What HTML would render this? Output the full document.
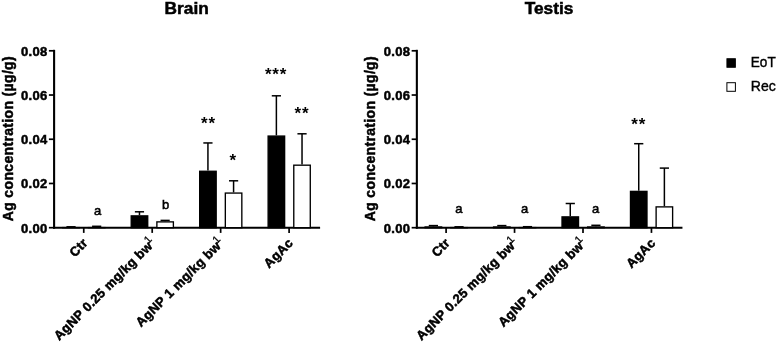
<!DOCTYPE html>
<html><head><meta charset="utf-8"><title>Ag concentration</title>
<style>
html,body{margin:0;padding:0;background:#fff;}
svg{display:block}
text{font-family:"Liberation Sans",sans-serif;fill:#000}
.t{font-size:17.3px;font-weight:bold;stroke:#000;stroke-width:0.5px}
.b{font-size:13px;font-weight:bold;stroke:#000;stroke-width:0.5px;letter-spacing:0.3px}
.yl{font-size:14px;letter-spacing:0.34px}
.xl{word-spacing:0px}
.n{font-size:13.7px;stroke:#000;stroke-width:0.55px}
.lg{font-size:14.7px;stroke:#000;stroke-width:0.4px}
.s{font-size:17px;font-weight:bold;letter-spacing:0.8px}
.sup{font-size:10.8px;font-weight:normal;stroke:#000;stroke-width:0.3px}
.ax{stroke:#000;stroke-width:2.1}
.tk{stroke:#000;stroke-width:1.7}
.er{stroke:#000;stroke-width:1.5}
</style></head><body>
<svg width="778" height="343" viewBox="0 0 778 343">
<rect width="778" height="343" fill="#fff"/>
<text x="186.7" y="13.75" class="t" text-anchor="middle">Brain</text>
<text transform="translate(12.6,138.6) rotate(-90)" class="b yl" text-anchor="middle">Ag concentration (µg/g)</text>
<line x1="54.1" y1="49.8" x2="54.1" y2="228.7" class="ax"/>
<line x1="53.1" y1="227.7" x2="320.1" y2="227.7" class="ax"/>
<line x1="48.9" y1="227.7" x2="54.1" y2="227.7" class="tk"/>
<text x="47.5" y="232.55" class="b" text-anchor="end">0.00</text>
<line x1="48.9" y1="183.47" x2="54.1" y2="183.47" class="tk"/>
<text x="47.5" y="188.32" class="b" text-anchor="end">0.02</text>
<line x1="48.9" y1="139.25" x2="54.1" y2="139.25" class="tk"/>
<text x="47.5" y="144.1" class="b" text-anchor="end">0.04</text>
<line x1="48.9" y1="95.02" x2="54.1" y2="95.02" class="tk"/>
<text x="47.5" y="99.87" class="b" text-anchor="end">0.06</text>
<line x1="48.9" y1="50.8" x2="54.1" y2="50.8" class="tk"/>
<text x="47.5" y="55.65" class="b" text-anchor="end">0.08</text>
<line x1="83.75" y1="227.7" x2="83.75" y2="232.9" class="tk"/>
<g transform="translate(90.05,241.6) rotate(-45)"><text x="-2.6" y="0.5" class="b xl" text-anchor="end">Ctr</text></g>
<line x1="71.03" y1="227.1" x2="71.03" y2="226.8" class="er"/>
<line x1="66.43" y1="226.8" x2="75.62" y2="226.8" class="er"/>
<rect x="62.77" y="227.6" width="16.5" height="0.1" fill="#000" stroke="#000" stroke-width="1.35"/>
<line x1="96.67" y1="227" x2="96.67" y2="226.3" class="er"/>
<line x1="92.08" y1="226.3" x2="101.27" y2="226.3" class="er"/>
<rect x="88.42" y="227.6" width="16.5" height="0.1" fill="#fff" stroke="#000" stroke-width="1.35"/>
<line x1="152.2" y1="227.7" x2="152.2" y2="232.9" class="tk"/>
<g transform="translate(158.5,241.6) rotate(-45)"><text x="-7.4" y="0" class="b xl" text-anchor="end">AgNP 0.25 mg/kg bw</text><text class="sup" x="-9.1" y="-5.3">1</text></g>
<line x1="139.47" y1="215.2" x2="139.47" y2="211.8" class="er"/>
<line x1="134.88" y1="211.8" x2="144.07" y2="211.8" class="er"/>
<rect x="131.22" y="215.88" width="16.5" height="11.82" fill="#000" stroke="#000" stroke-width="1.35"/>
<line x1="165.12" y1="221.2" x2="165.12" y2="220.4" class="er"/>
<line x1="160.53" y1="220.4" x2="169.72" y2="220.4" class="er"/>
<rect x="156.88" y="221.88" width="16.5" height="5.83" fill="#fff" stroke="#000" stroke-width="1.35"/>
<line x1="220.65" y1="227.7" x2="220.65" y2="232.9" class="tk"/>
<g transform="translate(226.95,241.6) rotate(-45)"><text x="-7.4" y="0" class="b xl" text-anchor="end">AgNP 1 mg/kg bw</text><text class="sup" x="-9.1" y="-5.3">1</text></g>
<line x1="207.93" y1="170.6" x2="207.93" y2="142.95" class="er"/>
<line x1="203.33" y1="142.95" x2="212.53" y2="142.95" class="er"/>
<rect x="199.68" y="171.27" width="16.5" height="56.42" fill="#000" stroke="#000" stroke-width="1.35"/>
<line x1="233.58" y1="192.4" x2="233.58" y2="180.8" class="er"/>
<line x1="228.98" y1="180.8" x2="238.18" y2="180.8" class="er"/>
<rect x="225.33" y="193.07" width="16.5" height="34.62" fill="#fff" stroke="#000" stroke-width="1.35"/>
<line x1="289.1" y1="227.7" x2="289.1" y2="232.9" class="tk"/>
<g transform="translate(295.4,241.6) rotate(-45)"><text x="-2.6" y="0.5" class="b xl" text-anchor="end">AgAc</text></g>
<line x1="276.38" y1="135.4" x2="276.38" y2="95.8" class="er"/>
<line x1="271.78" y1="95.8" x2="280.98" y2="95.8" class="er"/>
<rect x="268.13" y="136.07" width="16.5" height="91.62" fill="#000" stroke="#000" stroke-width="1.35"/>
<line x1="302.03" y1="164.5" x2="302.03" y2="133.8" class="er"/>
<line x1="297.43" y1="133.8" x2="306.63" y2="133.8" class="er"/>
<rect x="293.78" y="165.18" width="16.5" height="62.52" fill="#fff" stroke="#000" stroke-width="1.35"/>
<text transform="translate(97.6,214.9) scale(0.95,1)" class="n" text-anchor="middle">a</text>
<text transform="translate(165.6,209.2) scale(0.95,1)" class="n" text-anchor="middle">b</text>
<text x="208.5" y="129.3" class="s" text-anchor="middle">**</text>
<text x="233.3" y="165.5" class="s" text-anchor="middle">*</text>
<text x="276" y="80.3" class="s" text-anchor="middle">***</text>
<text x="302" y="118.5" class="s" text-anchor="middle">**</text>
<text x="549.05" y="13.75" class="t" text-anchor="middle">Testis</text>
<text transform="translate(375.35,138.6) rotate(-90)" class="b yl" text-anchor="middle">Ag concentration (µg/g)</text>
<line x1="416.85" y1="49.8" x2="416.85" y2="228.7" class="ax"/>
<line x1="415.85" y1="227.7" x2="682.45" y2="227.7" class="ax"/>
<line x1="411.65" y1="227.7" x2="416.85" y2="227.7" class="tk"/>
<text x="410.25" y="232.55" class="b" text-anchor="end">0.00</text>
<line x1="411.65" y1="183.47" x2="416.85" y2="183.47" class="tk"/>
<text x="410.25" y="188.32" class="b" text-anchor="end">0.02</text>
<line x1="411.65" y1="139.25" x2="416.85" y2="139.25" class="tk"/>
<text x="410.25" y="144.1" class="b" text-anchor="end">0.04</text>
<line x1="411.65" y1="95.02" x2="416.85" y2="95.02" class="tk"/>
<text x="410.25" y="99.87" class="b" text-anchor="end">0.06</text>
<line x1="411.65" y1="50.8" x2="416.85" y2="50.8" class="tk"/>
<text x="410.25" y="55.65" class="b" text-anchor="end">0.08</text>
<line x1="446.1" y1="227.7" x2="446.1" y2="232.9" class="tk"/>
<g transform="translate(452.4,241.6) rotate(-45)"><text x="-2.6" y="0.5" class="b xl" text-anchor="end">Ctr</text></g>
<line x1="433.38" y1="226.3" x2="433.38" y2="225.6" class="er"/>
<line x1="428.78" y1="225.6" x2="437.98" y2="225.6" class="er"/>
<rect x="425.13" y="226.98" width="16.5" height="0.72" fill="#000" stroke="#000" stroke-width="1.35"/>
<line x1="459.03" y1="227.1" x2="459.03" y2="226.8" class="er"/>
<line x1="454.43" y1="226.8" x2="463.63" y2="226.8" class="er"/>
<rect x="450.78" y="227.6" width="16.5" height="0.1" fill="#fff" stroke="#000" stroke-width="1.35"/>
<line x1="514.55" y1="227.7" x2="514.55" y2="232.9" class="tk"/>
<g transform="translate(520.85,241.6) rotate(-45)"><text x="-7.4" y="0" class="b xl" text-anchor="end">AgNP 0.25 mg/kg bw</text><text class="sup" x="-9.1" y="-5.3">1</text></g>
<line x1="501.83" y1="226.3" x2="501.83" y2="225.6" class="er"/>
<line x1="497.23" y1="225.6" x2="506.43" y2="225.6" class="er"/>
<rect x="493.58" y="226.98" width="16.5" height="0.72" fill="#000" stroke="#000" stroke-width="1.35"/>
<line x1="527.48" y1="227" x2="527.48" y2="226.7" class="er"/>
<line x1="522.88" y1="226.7" x2="532.08" y2="226.7" class="er"/>
<rect x="519.23" y="227.6" width="16.5" height="0.1" fill="#fff" stroke="#000" stroke-width="1.35"/>
<line x1="583" y1="227.7" x2="583" y2="232.9" class="tk"/>
<g transform="translate(589.3,241.6) rotate(-45)"><text x="-7.4" y="0" class="b xl" text-anchor="end">AgNP 1 mg/kg bw</text><text class="sup" x="-9.1" y="-5.3">1</text></g>
<line x1="570.27" y1="216.2" x2="570.27" y2="203.5" class="er"/>
<line x1="565.67" y1="203.5" x2="574.88" y2="203.5" class="er"/>
<rect x="562.02" y="216.88" width="16.5" height="10.82" fill="#000" stroke="#000" stroke-width="1.35"/>
<line x1="595.92" y1="226.3" x2="595.92" y2="225.3" class="er"/>
<line x1="591.32" y1="225.3" x2="600.52" y2="225.3" class="er"/>
<rect x="587.67" y="226.98" width="16.5" height="0.72" fill="#fff" stroke="#000" stroke-width="1.35"/>
<line x1="651.45" y1="227.7" x2="651.45" y2="232.9" class="tk"/>
<g transform="translate(657.75,241.6) rotate(-45)"><text x="-2.6" y="0.5" class="b xl" text-anchor="end">AgAc</text></g>
<line x1="638.73" y1="190.7" x2="638.73" y2="143.7" class="er"/>
<line x1="634.12" y1="143.7" x2="643.33" y2="143.7" class="er"/>
<rect x="630.48" y="191.38" width="16.5" height="36.33" fill="#000" stroke="#000" stroke-width="1.35"/>
<line x1="664.38" y1="206.2" x2="664.38" y2="168.1" class="er"/>
<line x1="659.77" y1="168.1" x2="668.98" y2="168.1" class="er"/>
<rect x="656.12" y="206.88" width="16.5" height="20.82" fill="#fff" stroke="#000" stroke-width="1.35"/>
<text transform="translate(458.8,213.3) scale(0.95,1)" class="n" text-anchor="middle">a</text>
<text transform="translate(524.5,213.3) scale(0.95,1)" class="n" text-anchor="middle">a</text>
<text transform="translate(595.7,212.7) scale(0.95,1)" class="n" text-anchor="middle">a</text>
<text x="638.7" y="130" class="s" text-anchor="middle">**</text>
<rect x="726.9" y="58.7" width="8.5" height="8.6" fill="#000" stroke="#000" stroke-width="0.9"/>
<rect x="726.9" y="82.7" width="8.5" height="8.6" fill="#fff" stroke="#000" stroke-width="1"/>
<text transform="translate(750.8,67.3) scale(0.925,1)" class="lg">EoT</text>
<text transform="translate(750.8,91.2) scale(0.955,1)" class="lg">Rec</text>

</svg>
</body></html>
